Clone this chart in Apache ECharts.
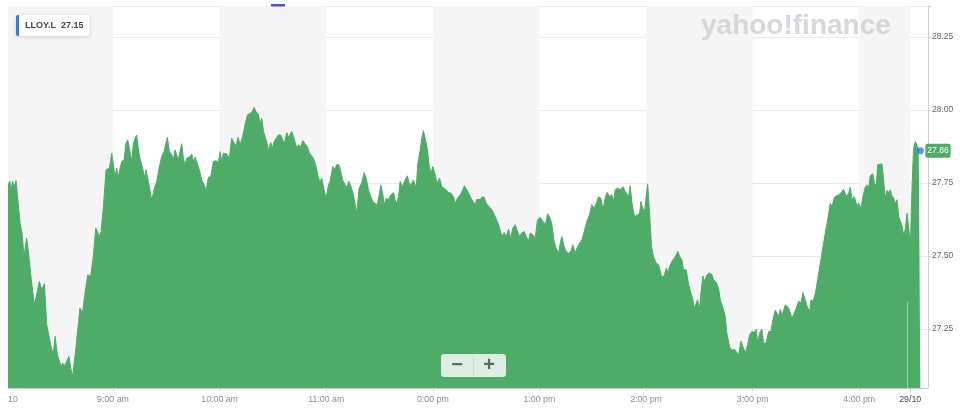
<!DOCTYPE html>
<html><head><meta charset="utf-8">
<script src="https://cdn.jsdelivr.net/npm/echarts@6/dist/echarts.min.js"></script>
<style>html,body{margin:0;padding:0;background:#fff}#c{width:960px;height:414px}</style>
</head><body><div id="c"></div>
<script>
// minutes after 08:00 (values beyond the 29/10 break are the next session's first minutes)
const minutes = [
0.9,2.0,2.6,3.5,4.3,5.4,7.7,8.8,9.9,11.4,12.5,13.7,14.4,15.7,17.0,18.5,19.9,21.4,22.7,23.6,24.9,26.4,27.4,28.7,29.8,30.7,31.7,32.6,33.9,35.2,36.2,37.3,38.1,39.2,41.4,42.8,43.3,44.8,45.8,46.7,47.4,48.9,50.3,51.2,52.3,53.3,54.6,56.1,58.0,59.3,
60.2,61.1,62.1,63.0,64.0,64.9,66.2,67.3,68.3,69.2,70.5,71.5,72.4,73.3,74.3,75.2,77.1,78.0,78.6,79.9,81.8,83.1,84.6,86.1,87.4,88.7,89.7,90.6,91.7,93.1,94.0,94.9,95.9,96.8,97.7,98.7,99.6,100.6,101.5,102.4,103.4,104.3,105.3,106.2,107.1,108.6,109.9,111.3,112.4,113.7,115.0,116.5,118.0,119.3,
120.3,121.2,122.1,124.0,125.5,126.8,128.2,129.3,130.4,131.5,133.0,134.3,135.7,136.8,138.1,139.4,140.5,141.8,142.8,143.7,144.7,146.2,147.5,148.8,149.7,150.7,151.8,153.1,154.4,155.5,156.5,157.8,158.7,159.7,160.6,161.6,162.5,163.4,164.4,165.7,166.8,168.1,169.4,170.6,171.5,172.8,174.3,175.6,176.6,177.5,178.8,179.9,
181.3,182.2,183.7,184.8,185.9,187.1,188.2,189.3,190.6,191.6,192.7,194.0,195.3,196.3,197.2,198.5,200.0,201.3,202.5,203.8,205.1,206.2,207.5,208.8,210.0,210.7,211.9,212.6,213.7,215.0,216.4,217.9,218.8,219.7,220.7,221.6,222.9,224.4,225.7,226.9,228.2,229.1,230.6,231.6,232.9,233.8,234.7,235.9,237.0,237.9,238.9,
240.0,241.3,242.3,243.8,245.1,246.4,247.5,248.8,250.1,251.6,252.6,253.9,255.4,256.9,257.8,259.1,260.6,262.0,263.8,264.8,266.7,267.6,268.9,270.0,271.3,273.2,275.1,277.0,278.9,280.2,281.3,282.6,283.9,285.0,286.4,287.7,288.8,290.1,291.4,292.6,293.9,294.8,296.3,297.6,298.9,
300.4,301.9,303.3,304.6,306.1,307.0,308.3,309.4,310.8,311.7,312.6,313.9,315.1,316.4,317.7,318.8,320.1,321.5,322.6,323.9,325.2,326.7,328.2,329.5,330.8,332.0,333.3,334.6,335.7,337.0,338.0,339.5,340.8,341.7,342.7,344.0,345.5,347.0,348.3,349.2,350.2,351.1,352.0,353.0,353.9,355.2,356.4,357.1,358.2,359.0,359.9,
360.9,362.0,363.1,364.2,365.7,367.1,368.0,368.9,370.2,371.4,372.3,373.3,374.6,375.9,377.0,377.9,378.9,380.2,381.1,382.6,384.0,385.3,386.4,387.1,388.3,389.0,390.1,390.9,392.0,392.8,394.3,395.8,397.1,398.0,399.5,400.8,401.8,403.3,404.6,405.5,407.0,408.4,409.7,410.8,412.1,413.4,414.5,415.9,417.2,418.3,419.6,
420.9,422.1,422.8,423.9,425.2,426.2,427.7,429.0,430.3,431.4,432.8,433.7,434.6,435.6,436.5,437.4,438.4,439.3,440.3,441.2,442.1,443.1,444.6,445.9,447.2,448.3,449.6,451.0,452.1,452.8,454.0,455.3,456.6,458.1,459.6,460.9,462.2,463.7,464.7,466.0,467.1,468.4,469.7,471.2,472.7,474.0,475.0,475.9,477.2,478.7,479.7,
481.0,482.1,483.4,484.4,485.3,486.2,487.7,488.5,489.6,490.4,491.5,492.8,493.7,494.7,495.6,496.6,497.5,498.4,499.4,500.3,501.3,502.2,503.1,504.1,505.0,505.9,506.9,507.8,508.8,509.7,510.6,511.6,512.5,513.5,514.4
];
const prices = [
27.743,27.755,27.724,27.755,27.735,27.758,27.612,27.578,27.498,27.560,27.509,27.435,27.441,27.332,27.366,27.412,27.384,27.404,27.264,27.258,27.195,27.161,27.224,27.161,27.161,27.121,27.132,27.121,27.138,27.155,27.115,27.087,27.081,27.189,27.321,27.304,27.304,27.395,27.435,27.441,27.429,27.498,27.595,27.583,27.566,27.583,27.669,27.795,27.800,27.852,
27.812,27.772,27.800,27.769,27.800,27.823,27.829,27.886,27.897,27.869,27.823,27.886,27.903,27.914,27.863,27.834,27.789,27.766,27.795,27.755,27.692,27.726,27.755,27.806,27.840,27.857,27.857,27.906,27.857,27.846,27.829,27.863,27.869,27.829,27.857,27.884,27.834,27.812,27.834,27.829,27.840,27.849,27.823,27.838,27.834,27.795,27.760,27.743,27.724,27.769,27.772,27.823,27.826,27.820,
27.857,27.820,27.852,27.849,27.834,27.903,27.886,27.877,27.906,27.880,27.909,27.949,27.983,27.977,27.991,28.009,27.994,27.983,27.954,27.971,27.926,27.897,27.863,27.888,27.869,27.892,27.886,27.914,27.914,27.897,27.886,27.922,27.906,27.911,27.926,27.909,27.903,27.869,27.880,27.874,27.895,27.884,27.874,27.852,27.857,27.834,27.806,27.766,27.755,27.766,27.726,27.697,
27.743,27.755,27.806,27.795,27.812,27.812,27.789,27.760,27.743,27.735,27.755,27.737,27.709,27.709,27.646,27.732,27.749,27.785,27.766,27.726,27.703,27.686,27.680,27.675,27.715,27.743,27.709,27.675,27.697,27.692,27.709,27.717,27.692,27.680,27.703,27.755,27.737,27.760,27.774,27.743,27.749,27.760,27.732,27.817,27.863,27.903,27.929,27.897,27.863,27.812,27.783,
27.806,27.777,27.749,27.766,27.735,27.732,27.726,27.717,27.715,27.703,27.680,27.697,27.709,27.726,27.740,27.726,27.709,27.692,27.675,27.694,27.692,27.701,27.701,27.680,27.671,27.658,27.635,27.606,27.566,27.580,27.566,27.591,27.560,27.595,27.606,27.583,27.566,27.578,27.583,27.566,27.549,27.578,27.572,27.560,27.623,
27.632,27.618,27.606,27.644,27.629,27.606,27.549,27.526,27.509,27.543,27.566,27.532,27.515,27.509,27.515,27.538,27.509,27.532,27.526,27.555,27.583,27.618,27.640,27.675,27.663,27.680,27.703,27.697,27.658,27.697,27.717,27.703,27.709,27.686,27.726,27.732,27.726,27.737,27.720,27.726,27.703,27.740,27.686,27.646,27.635,27.640,27.646,27.686,27.663,27.646,27.692,
27.747,27.646,27.532,27.498,27.475,27.469,27.446,27.427,27.431,27.458,27.441,27.463,27.481,27.492,27.503,27.515,27.498,27.486,27.452,27.452,27.401,27.372,27.349,27.321,27.338,27.349,27.317,27.372,27.431,27.412,27.435,27.441,27.435,27.418,27.409,27.389,27.349,27.321,27.292,27.235,27.189,27.176,27.180,27.178,27.161,27.207,27.189,27.167,27.195,27.229,27.241,
27.237,27.247,27.201,27.235,27.249,27.199,27.203,27.241,27.241,27.281,27.313,27.315,27.292,27.317,27.295,27.295,27.332,27.338,27.321,27.324,27.287,27.298,27.321,27.344,27.338,27.374,27.349,27.321,27.309,27.349,27.344,27.372,27.418,27.475,27.532,27.578,27.623,27.680,27.669,27.701,27.697,27.709,27.715,27.728,27.703,27.715,27.735,27.692,27.703,27.671,27.680,
27.663,27.703,27.735,27.743,27.732,27.774,27.781,27.749,27.740,27.812,27.815,27.815,27.760,27.697,27.724,27.717,27.726,27.705,27.697,27.680,27.692,27.635,27.629,27.600,27.572,27.589,27.646,27.648,27.538,27.737,27.869,27.892,27.897,27.863,27.860
];
const hourTicks = [60,120,180,240,300,360,420,480];
const hourLabels = ['9:00 am','10:00 am','11:00 am','0:00 pm','1:00 pm','2:00 pm','3:00 pm','4:00 pm'];
const dayBreak = 508.7;
const dayBreakLabel = '29/10';
const prevDayLabel = '10';
const priceTicks = [27.25,27.5,27.75,28.0,28.25];
const tickerName = 'LLOY.L';
const tickerQuote = '27.15';
const volumeMark = [506.9, 27.342];

const xMin = 0.9, xMax = 518.7, yMin = 27.047, yMax = 28.356;
const green = '#4fac68';

const chart = echarts.init(document.getElementById('c'), null, {renderer: 'canvas'});
const data = minutes.map((m, i) => [m, prices[i]]);
const last = data.length - 1;
const grayBands = [[xMin, hourTicks[0]], [hourTicks[1], hourTicks[2]], [hourTicks[3], hourTicks[4]], [hourTicks[5], hourTicks[6]], [hourTicks[7], dayBreak]];
const font = '"Liberation Sans", Arial, Helvetica, sans-serif';

function xLabel(v) {
  if (Math.abs(v - xMin) < 1e-6) return prevDayLabel;
  if (Math.abs(v - dayBreak) < 1e-6) return '{d|' + dayBreakLabel + '}';
  const i = hourTicks.indexOf(v);
  return i >= 0 ? hourLabels[i] : '';
}

chart.setOption({
  animation: false,
  backgroundColor: '#fff',
  textStyle: {fontFamily: font},
  grid: {left: 8, right: 32, top: 6, bottom: 26, containLabel: false},
  title: {
    text: tickerName + '  ' + tickerQuote, left: 16, top: 15, padding: [5, 6, 5, 9],
    backgroundColor: '#fff', borderRadius: 3, shadowBlur: 4, shadowColor: 'rgba(0,0,0,0.16)', shadowOffsetY: 1,
    textStyle: {fontSize: 9, fontWeight: 'bold', color: '#454545', fontFamily: font, lineHeight: 11}
  },
  xAxis: {
    type: 'value', min: xMin, max: xMax,
    axisLine: {show: true, lineStyle: {color: '#d0d0d0'}},
    axisTick: {show: true, customValues: hourTicks.concat([dayBreak]), length: 3, lineStyle: {color: '#d0d0d0'}},
    axisLabel: {
      customValues: [xMin].concat(hourTicks, [dayBreak]), formatter: xLabel,
      fontSize: 8.8, color: '#8c8c8c', margin: 7, alignMinLabel: 'left', fontFamily: font,
      rich: {d: {fontSize: 8.8, color: '#4a4a4a', fontFamily: font}}
    },
    splitLine: {show: false}
  },
  yAxis: {
    type: 'value', position: 'right', min: yMin, max: yMax,
    axisLine: {show: true, lineStyle: {color: '#d0d0d0'}},
    axisTick: {show: true, customValues: priceTicks.concat([yMax]), length: 3, lineStyle: {color: '#d0d0d0'}},
    axisLabel: {customValues: priceTicks, formatter: v => v.toFixed(2), fontSize: 8.5, color: '#666', margin: 4, fontFamily: font},
    splitLine: {show: true, lineStyle: {color: '#e8e8e8', width: 1}}
  },
  graphic: [
    {type: 'text', left: 701, top: 12, z: 50, style: {text: 'yahoo!finance', font: 'bold 28px "Liberation Sans", Arial', fill: '#d6d6db'}},
    {type: 'rect', z: 100, shape: {x: 16, y: 15, width: 3, height: 21, r: [2, 0, 0, 2]}, style: {fill: '#2f7de1'}},
    {type: 'rect', z: 100, shape: {x: 271, y: 4, width: 14, height: 2.5}, style: {fill: '#4654c6'}},
    {type: 'rect', z: 100, shape: {x: 441, y: 354, width: 65, height: 23, r: 3}, style: {fill: 'rgba(255,255,255,0.8)'}},
    {type: 'line', z: 101, shape: {x1: 473.5, y1: 356, x2: 473.5, y2: 375}, style: {stroke: 'rgba(0,0,0,0.08)', lineWidth: 1}},
    {type: 'text', z: 101, style: {x: 457, y: 365.5, text: '\u2212', font: 'bold 20px "Liberation Sans", Arial', fill: '#5c6b60', align: 'center', verticalAlign: 'middle'}},
    {type: 'text', z: 101, style: {x: 489, y: 365.5, text: '+', font: 'bold 20px "Liberation Sans", Arial', fill: '#5c6b60', align: 'center', verticalAlign: 'middle'}}
  ],
  series: [
    {
      type: 'line', data: data, symbol: 'none', showSymbol: false, z: 2,
      lineStyle: {width: 1, color: green}, itemStyle: {color: green},
      areaStyle: {color: green, opacity: 1, origin: 'start'},
      endLabel: {
        show: true, formatter: p => p.value[1].toFixed(2), distance: 5,
        backgroundColor: green, color: '#fff', fontSize: 8.5, padding: [3, 2, 2, 2], borderRadius: 2, fontFamily: font
      },
      markArea: {silent: true, itemStyle: {color: '#f5f5f5'}, data: grayBands.map(b => [{xAxis: b[0]}, {xAxis: b[1]}])},
      markLine: {
        silent: true, symbol: ['none', 'none'], label: {show: false},
        lineStyle: {color: 'rgba(255,255,255,0.45)', width: 1, type: 'solid'},
        data: [[{coord: [volumeMark[0], yMin]}, {coord: [volumeMark[0], volumeMark[1]]}]]
      }
    },
    {type: 'scatter', data: [data[last]], symbolSize: 7, itemStyle: {color: '#2f7bf5'}, z: 5, silent: true}
  ]
});
</script></body></html>
